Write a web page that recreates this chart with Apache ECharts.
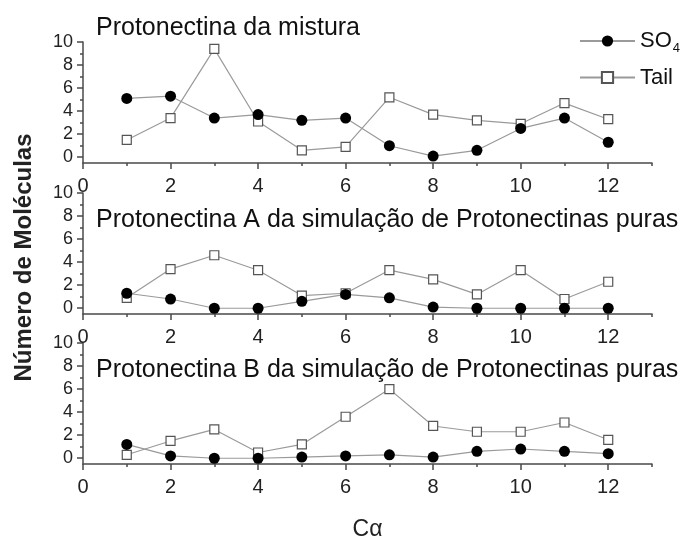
<!DOCTYPE html>
<html>
<head>
<meta charset="utf-8">
<script src="https://cdn.jsdelivr.net/npm/echarts@6/dist/echarts.min.js"></script>
<style>
html,body{margin:0;padding:0;background:#fff;}
#chart{width:688px;height:542px;}
</style>
</head>
<body>
<div id="chart"></div>
<script>
// Cα positions along the chain
const positions = [1, 2, 3, 4, 5, 6, 7, 8, 9, 10, 11, 12];

// Panel titles
const panelTitles = [
  'Protonectina da mistura',
  'Protonectina A da simulação de Protonectinas puras',
  'Protonectina B da simulação de Protonectinas puras'
];

// Number of molecules near each Cα, SO4 contacts
const so4Mix = [5.1, 5.3, 3.4, 3.7, 3.2, 3.4, 1.0, 0.1, 0.6, 2.5, 3.4, 1.3];
const so4A   = [1.3, 0.8, 0.0, 0.0, 0.6, 1.2, 0.9, 0.1, 0.0, 0.0, 0.0, 0.0];
const so4B   = [1.2, 0.2, 0.0, 0.0, 0.1, 0.2, 0.3, 0.1, 0.6, 0.8, 0.6, 0.4];

// Number of molecules near each Cα, tail contacts
const tailMix = [1.5, 3.4, 9.4, 3.1, 0.6, 0.9, 5.2, 3.7, 3.2, 2.9, 4.7, 3.3];
const tailA   = [0.9, 3.4, 4.6, 3.3, 1.1, 1.3, 3.3, 2.5, 1.2, 3.3, 0.8, 2.3];
const tailB   = [0.3, 1.5, 2.5, 0.5, 1.2, 3.6, 6.0, 2.8, 2.3, 2.3, 3.1, 1.6];

// Tick values
const xMajorTicks = [0, 2, 4, 6, 8, 10, 12];
const xMinorTicks = [1, 3, 5, 7, 9, 11, 13];
const yMajorTicks = [0, 2, 4, 6, 8, 10];
const yMinorTicks = [1, 3, 5, 7, 9];

const so4Panels = [so4Mix, so4A, so4B];
const tailPanels = [tailMix, tailA, tailB];

const FONT = 'Liberation Sans, Arial, sans-serif';
const AXIS_COLOR = '#4a4a4a';
const LINE_COLOR = '#9a9a9a';

const gridBoxes = [
  { top: 42, height: 121 },
  { top: 193, height: 121 },
  { top: 343, height: 122 }
];
const titleTops = [11, 203, 353];

const grids = [], xAxes = [], yAxes = [], series = [], titles = [];

gridBoxes.forEach((g, i) => {
  grids.push({ left: 83, right: 36, top: g.top, height: g.height });

  // main x axis: labels and major ticks
  xAxes.push({
    type: 'value', gridIndex: i, min: 0, max: 13, position: 'bottom',
    axisLine: { onZero: false, lineStyle: { color: AXIS_COLOR, width: 1.5 } },
    axisTick: { customValues: xMajorTicks, length: 6, lineStyle: { color: AXIS_COLOR, width: 1.5 } },
    axisLabel: { customValues: xMajorTicks, margin: 13, color: '#222', fontSize: 20, fontFamily: FONT },
    splitLine: { show: false },
    name: i === 2 ? 'Cα' : '',
    nameLocation: 'middle', nameGap: 54,
    nameTextStyle: { fontSize: 23, color: '#222', fontFamily: FONT }
  });
  // minor ticks on odd positions
  xAxes.push({
    type: 'value', gridIndex: i, min: 0, max: 13, position: 'bottom',
    axisLine: { show: false, onZero: false },
    axisTick: { customValues: xMinorTicks, length: 3, lineStyle: { color: AXIS_COLOR, width: 1.5 } },
    axisLabel: { show: false },
    splitLine: { show: false }
  });

  yAxes.push({
    type: 'value', gridIndex: i, min: -0.5, max: 10, position: 'left',
    axisLine: { show: true, onZero: false, lineStyle: { color: AXIS_COLOR, width: 1.5 } },
    axisTick: { show: true, customValues: yMajorTicks, length: 6, lineStyle: { color: AXIS_COLOR, width: 1.5 } },
    axisLabel: { customValues: yMajorTicks, margin: 10, color: '#222', fontSize: 18, fontFamily: FONT },
    splitLine: { show: false },
    name: i === 1 ? 'Número de Moléculas' : '',
    nameLocation: 'middle', nameGap: 47, nameRotate: 90,
    nameTextStyle: { fontSize: 24, fontWeight: 'bold', color: '#222', fontFamily: FONT, padding: [0, 0, 0, -8] }
  });
  yAxes.push({
    type: 'value', gridIndex: i, min: -0.5, max: 10, position: 'left',
    axisLine: { show: false, onZero: false },
    axisTick: { show: true, customValues: yMinorTicks, length: 3, lineStyle: { color: AXIS_COLOR, width: 1.5 } },
    axisLabel: { show: false },
    splitLine: { show: false }
  });

  series.push({
    name: 'SO4', type: 'line', xAxisIndex: 2 * i, yAxisIndex: 2 * i,
    data: positions.map((p, k) => [p, so4Panels[i][k]]),
    symbol: 'circle', symbolSize: 11,
    itemStyle: { color: '#000' },
    lineStyle: { color: LINE_COLOR, width: 1.2 },
    z: 3
  });
  series.push({
    name: 'Tail', type: 'line', xAxisIndex: 2 * i, yAxisIndex: 2 * i,
    data: positions.map((p, k) => [p, tailPanels[i][k]]),
    symbol: 'rect', symbolSize: 9,
    itemStyle: { color: '#fff', borderColor: '#555', borderWidth: 1.2 },
    lineStyle: { color: LINE_COLOR, width: 1.2 },
    z: 2
  });

  titles.push({
    text: panelTitles[i], left: 91, top: titleTops[i],
    textStyle: { fontSize: 25, fontWeight: 'normal', color: '#111', fontFamily: FONT }
  });
});

const chart = echarts.init(document.getElementById('chart'), null, { renderer: 'canvas' });
chart.setOption({
  animation: false,
  backgroundColor: '#fff',
  title: titles,
  legend: {
    orient: 'vertical', left: 574, top: 25,
    itemWidth: 55, itemHeight: 14, itemGap: 12,
    data: ['SO4', 'Tail'],
    formatter: n => n === 'SO4' ? 'SO{sub|4}' : n,
    textStyle: {
      fontSize: 22, color: '#111', fontFamily: FONT,
      rich: { sub: { fontSize: 13, padding: [14, 0, 0, 1], fontFamily: FONT, color: '#111' } }
    }
  },
  grid: grids,
  xAxis: xAxes,
  yAxis: yAxes,
  series: series
});
</script>
</body>
</html>
